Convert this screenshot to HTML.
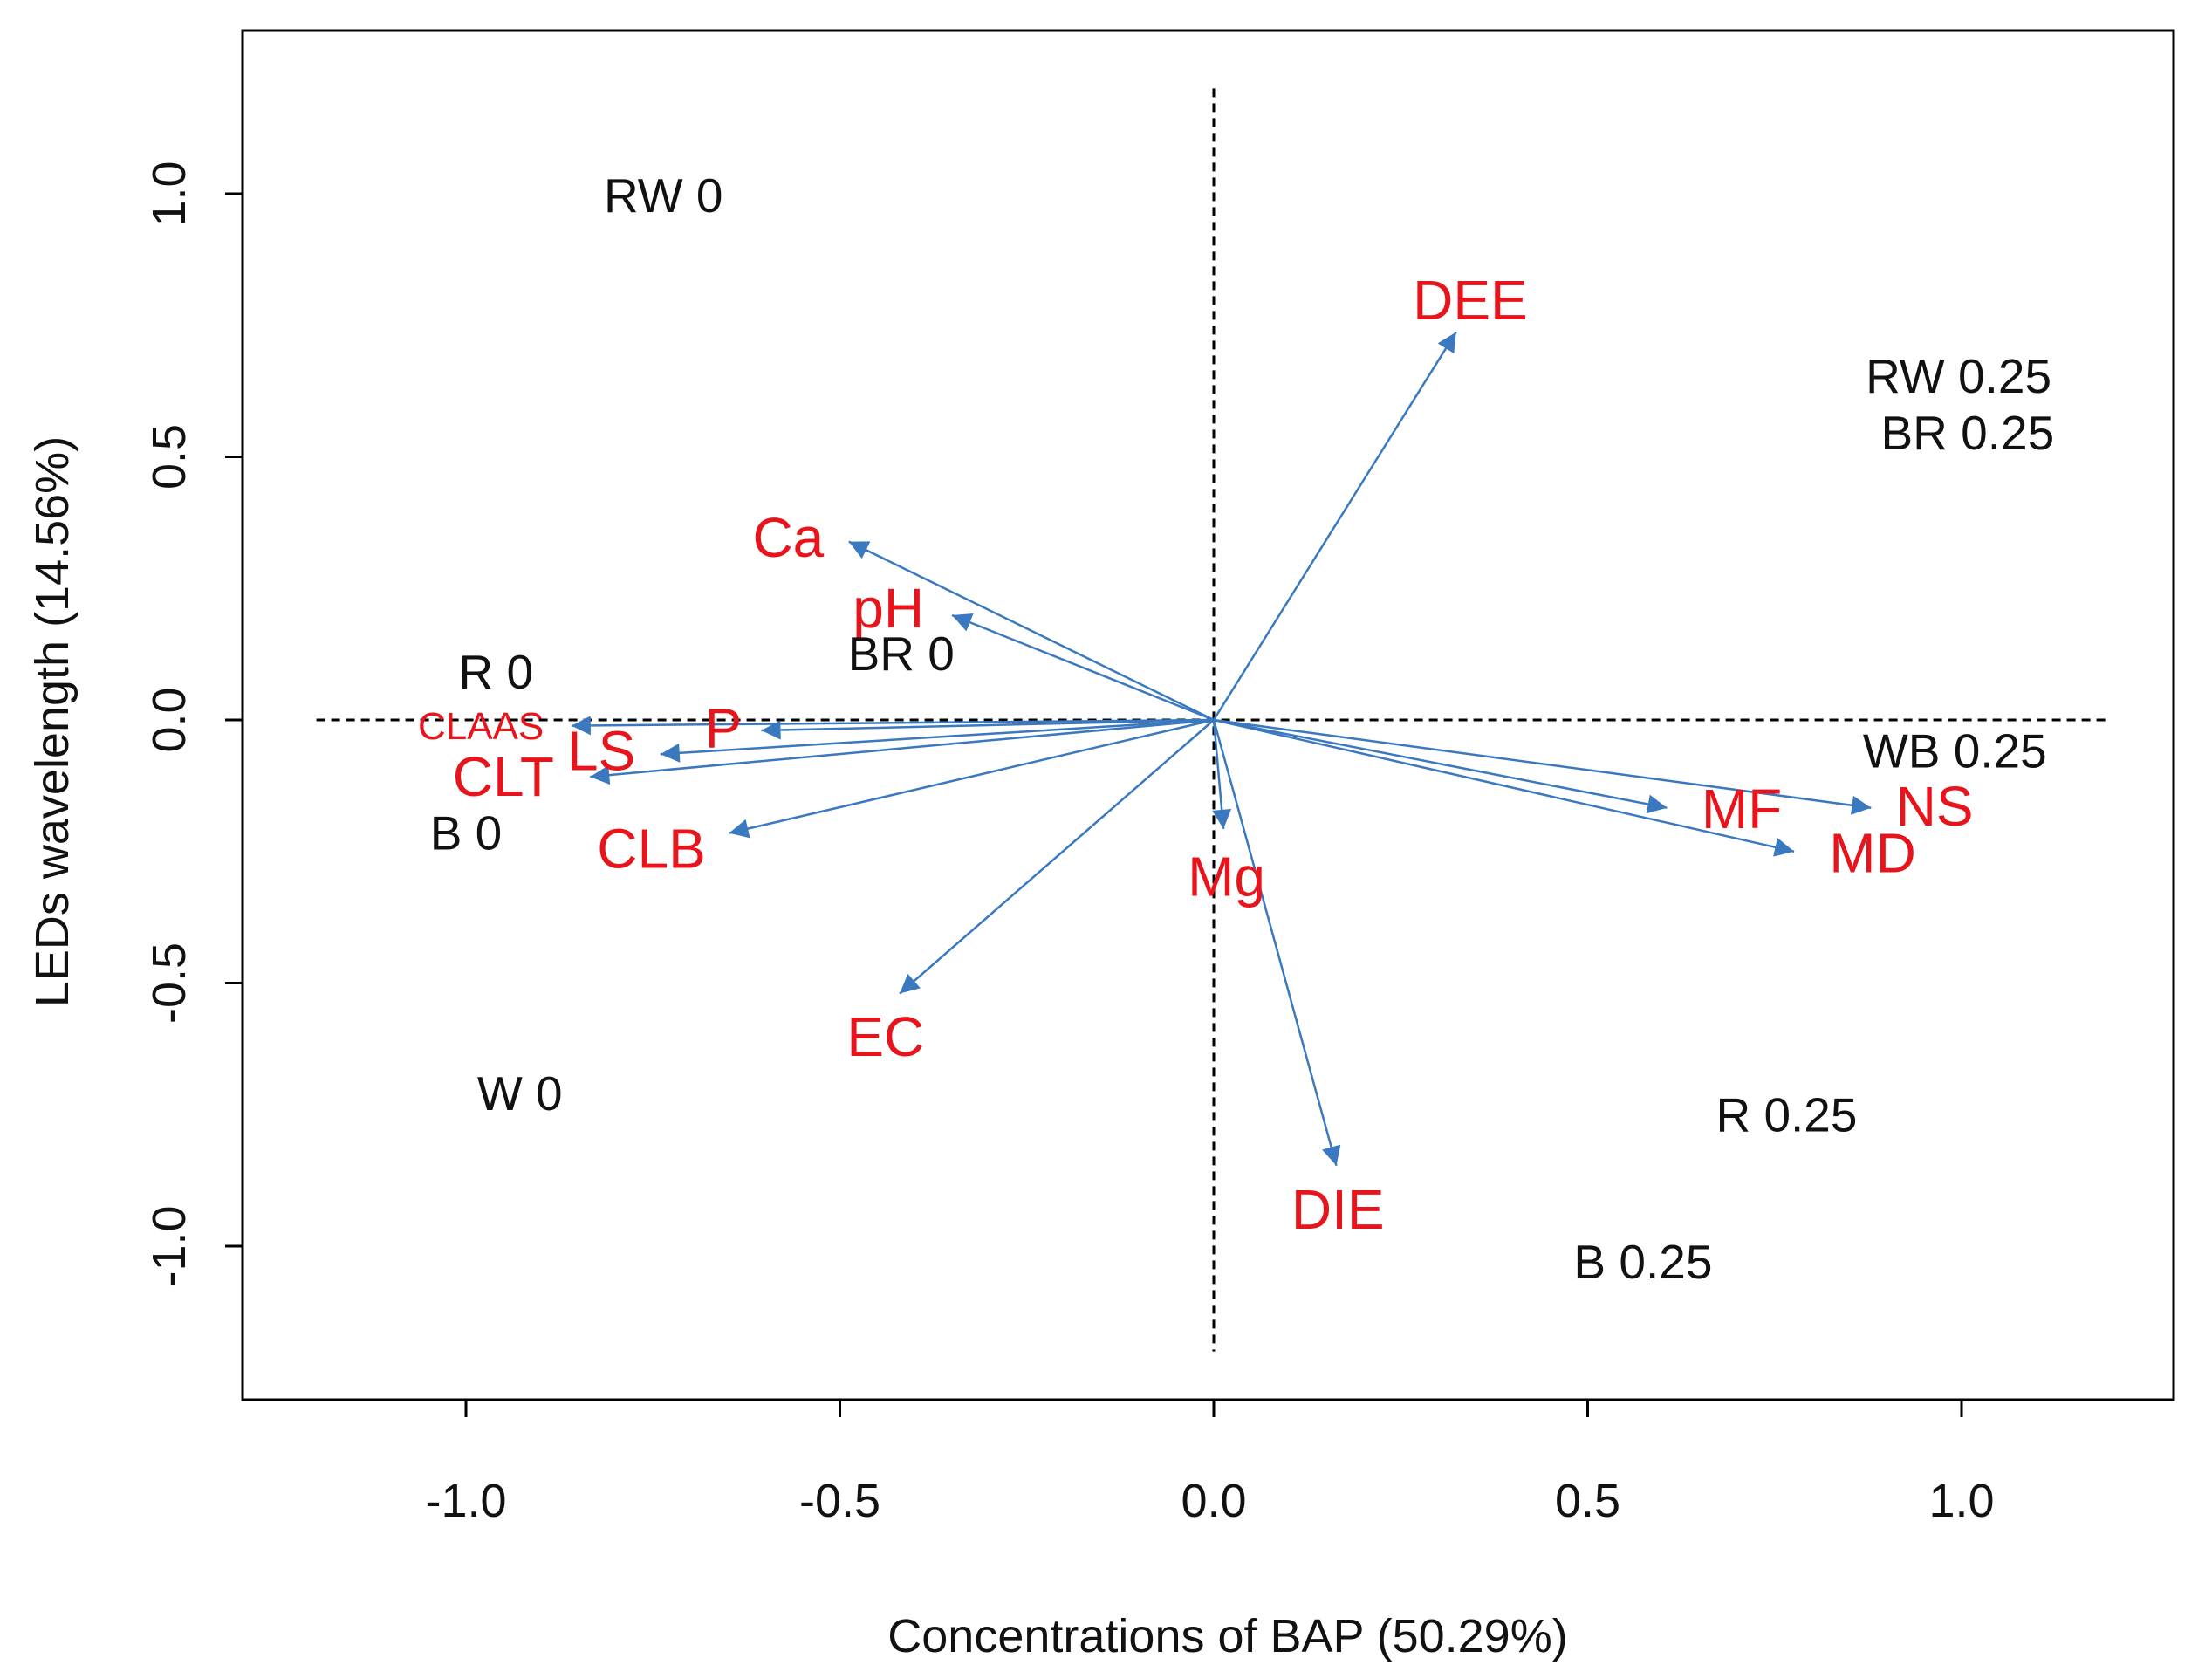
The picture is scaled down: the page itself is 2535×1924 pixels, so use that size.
<!DOCTYPE html>
<html><head><meta charset="utf-8"><style>
html,body{margin:0;padding:0;background:#fff}
svg{display:block}
text{font-family:"Liberation Sans",sans-serif}
</style></head><body>
<svg id="chart" width="2535" height="1924" viewBox="0 0 2535 1924" xmlns="http://www.w3.org/2000/svg">
<defs>
<marker id="ah2" viewBox="0 0 10 10" refX="10" refY="5" markerWidth="30" markerHeight="22" markerUnits="userSpaceOnUse" orient="auto"><path d="M0,0 L10,5 L0,10 z" fill="#3a78c0"/></marker></defs>
<g id="axes"></g><g id="marks"></g>
</svg>
<script>
const varNames=["DEE","Ca","pH","CLAAS","P","LS","CLT","CLB","EC","Mg","DIE","MF","NS","MD"];
const varX=[0.324,-0.488,-0.350,-0.859,-0.605,-0.740,-0.834,-0.648,-0.420,0.013,0.164,0.606,0.879,0.776];
const varY=[0.737,0.339,0.199,-0.011,-0.020,-0.065,-0.108,-0.215,-0.520,-0.207,-0.847,-0.167,-0.167,-0.250];
const varLabelX=[0.343,-0.569,-0.435,-0.980,-0.656,-0.819,-0.950,-0.752,-0.439,0.017,0.166,0.706,0.964,0.881];
const varLabelY=[0.798,0.347,0.212,0.0,-0.016,-0.059,-0.108,-0.245,-0.602,-0.298,-0.930,-0.169,-0.164,-0.253];
const obsNames=["RW 0","R 0","BR 0","B 0","W 0","RW 0.25","BR 0.25","WB 0.25","R 0.25","B 0.25"];
const obsX=[-0.736,-0.960,-0.418,-1.000,-0.928,0.996,1.008,0.991,0.766,0.574];
const obsY=[0.997,0.091,0.126,-0.215,-0.710,0.653,0.546,-0.059,-0.750,-1.030];
const xTicks=[-1.0,-0.5,0.0,0.5,1.0];
const yTicks=[-1.0,-0.5,0.0,0.5,1.0];
const tickLabels=["-1.0","-0.5","0.0","0.5","1.0"];
const X0=1391,XU=857,Y0=825,YU=603;
const L=278,R=2491,T=35,B=1604;
const sx=v=>X0+v*XU, sy=v=>Y0-v*YU;
const NS="http://www.w3.org/2000/svg";
function mk(tag,attrs,parent,txt){const e=document.createElementNS(NS,tag);for(const k in attrs)e.setAttribute(k,attrs[k]);if(txt!==undefined)e.textContent=txt;parent.appendChild(e);return e;}
const ax=document.getElementById('axes'),mg=document.getElementById('marks');
let e=mk('rect',{x:L,y:T,width:R-L,height:B-T,fill:'none',stroke:'#000','stroke-width':3},ax);


xTicks.forEach((t,i)=>{
 let l=mk('line',{x1:sx(t),x2:sx(t),y1:B,y2:B+20,stroke:'#000','stroke-width':3},ax);
 
 
 let tx=mk('text',{x:sx(t),y:1738,'font-size':54,'text-anchor':'middle',fill:'#111'},ax,tickLabels[i]);
 
 
});
yTicks.forEach((t,i)=>{
 let l=mk('line',{x1:L-20,x2:L,y1:sy(t),y2:sy(t),stroke:'#000','stroke-width':3},ax);
 
 
 let tx=mk('text',{x:0,y:0,'font-size':54,'text-anchor':'middle',fill:'#111',transform:`translate(212,${sy(t)}) rotate(-90)`},ax,tickLabels[i]);
 
 
});
e=mk('text',{x:1407,y:1893,'font-size':54,'text-anchor':'middle',fill:'#111'},ax,'Concentrations of BAP (50.29%)');


e=mk('text',{x:0,y:0,'font-size':54,'text-anchor':'middle',fill:'#111',transform:'translate(78,827) rotate(-90)'},ax,'LEDs wavelength (14.56%)');


e=mk('line',{x1:sx(-1.2),x2:sx(1.2),y1:sy(0),y2:sy(0),stroke:'#000','stroke-width':3,'stroke-dasharray':'10,7'},ax);


e=mk('line',{x1:sx(0),x2:sx(0),y1:sy(1.2),y2:sy(-1.2),stroke:'#000','stroke-width':3,'stroke-dasharray':'10,7'},ax);


varNames.forEach((n,i)=>{
 let a=mk('line',{x1:sx(0),y1:sy(0),x2:sx(varX[i]),y2:sy(varY[i]),stroke:'#3a78c0','stroke-width':2.5,'marker-end':'url(#ah2)'},mg);
 
 
});
varNames.forEach((n,i)=>{
 let t=mk('text',{x:sx(varLabelX[i]),y:sy(varLabelY[i])+22,'font-size':n==='CLAAS'?44:64,'text-anchor':'middle',fill:'#e8141c'},mg,n);
 
 
});
obsNames.forEach((n,i)=>{
 let t=mk('text',{x:sx(obsX[i]),y:sy(obsY[i])+19,'font-size':55,'text-anchor':'middle',fill:'#111'},mg,n);
 
 
});
</script>
</body></html>
